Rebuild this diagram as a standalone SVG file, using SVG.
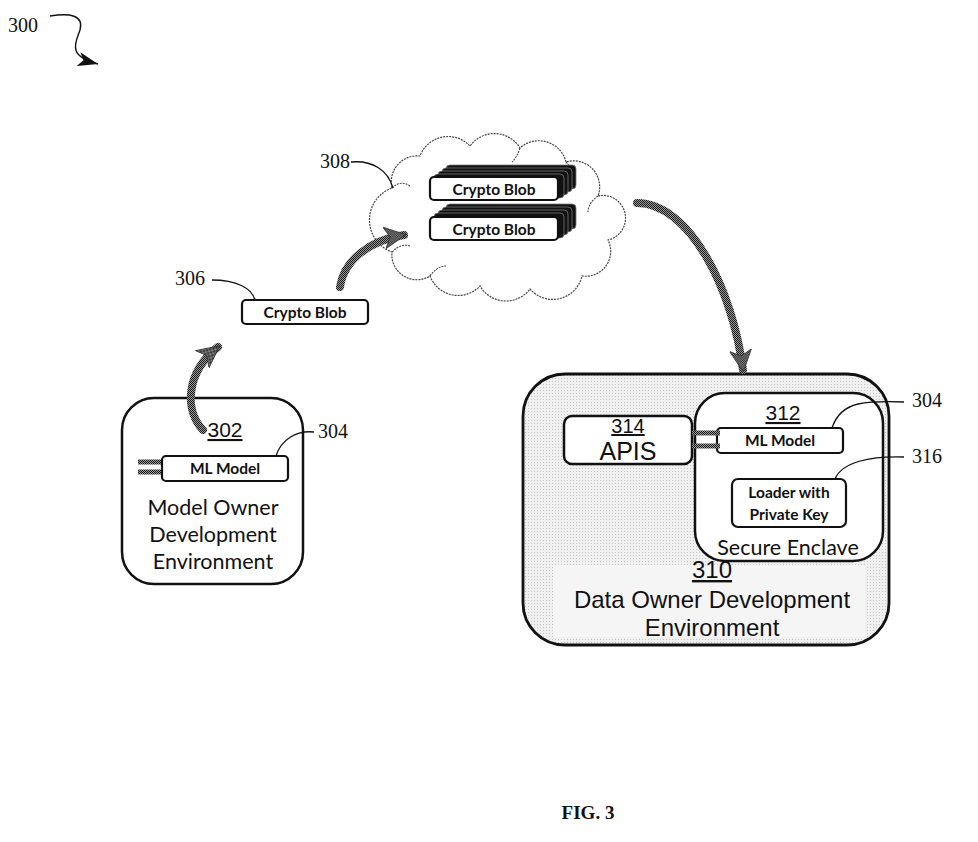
<svg xmlns="http://www.w3.org/2000/svg" width="978" height="842" viewBox="0 0 978 842">
<defs>
<pattern id="hatch" width="2" height="2" patternUnits="userSpaceOnUse">
<rect width="2" height="2" fill="#9a9a9a"/>
<rect width="1" height="1" fill="#1a1a1a"/>
<rect x="1" y="1" width="1" height="1" fill="#1a1a1a"/>
</pattern>
<pattern id="dots" width="3" height="3" patternUnits="userSpaceOnUse">
<rect width="3" height="3" fill="#f0f0f0"/>
<rect width="1" height="1" fill="#c4c4c4"/>
</pattern>
<marker id="bigHead" markerUnits="userSpaceOnUse" markerWidth="26" markerHeight="26" refX="20" refY="13" orient="auto" viewBox="0 0 26 26">
<path d="M0,2 L22,13 L0,24 L6,13 Z" fill="url(#hatch)" stroke="#333" stroke-width="0.8"/>
</marker>
<marker id="smallHead" markerUnits="userSpaceOnUse" markerWidth="22" markerHeight="14" refX="20" refY="7" orient="auto" viewBox="0 0 22 14">
<path d="M0,0 L20,7 L0,14 L5,7 Z" fill="#111"/>
</marker>
</defs>
<style>
.num{font-family:"Liberation Serif","Times New Roman",serif;font-size:20px;fill:#111}
.ar{font-family:"Liberation Sans",Arial,sans-serif;fill:#111}
.cal{font-family:Lato,"Liberation Sans",sans-serif;fill:#111}
.calb{font-family:Lato,"Liberation Sans",sans-serif;font-weight:bold;fill:#111}
.box{fill:#fff;stroke:#111;stroke-width:2.5}
.small{fill:#fff;stroke:#111;stroke-width:2.2}
.lead{fill:none;stroke:#111;stroke-width:1.3}
.flow{fill:none;stroke:url(#hatch);stroke-width:8;stroke-linecap:round}
.link{stroke:url(#hatch);stroke-width:5;fill:none}
.stack{fill:#111;stroke:#777;stroke-width:0.8}
</style>

<g id="fig-label">
<text class="num" x="8" y="32">300</text>
<path d="M50,16 C70,13 84,15 80,30 C76,42 66,56 98,64" fill="none" stroke="#111" stroke-width="1.4" marker-end="url(#smallHead)"/>
</g>

<g id="node-302">
<rect class="box" x="122" y="398" width="181" height="186" rx="32"/>
<text class="ar" x="225" y="437" font-size="21" text-anchor="middle" text-decoration="underline">302</text>
<text class="cal" x="213" y="515" font-size="21.5" text-anchor="middle">Model Owner</text>
<text class="cal" x="213" y="542" font-size="21.5" text-anchor="middle">Development</text>
<text class="cal" x="213" y="569" font-size="21.5" text-anchor="middle">Environment</text>
</g>

<g id="node-304-left">
<line class="link" x1="138" y1="462" x2="172" y2="462"/>
<line class="link" x1="138" y1="472" x2="172" y2="472"/>
<rect class="small" x="162" y="456" width="126" height="25" rx="4"/>
<text class="calb" x="225" y="474" font-size="15.5" text-anchor="middle">ML Model</text>
<text class="num" x="318" y="438">304</text>
<path class="lead" d="M314,432 C296,430 281,440 276,456"/>
</g>

<g id="node-306">
<rect class="small" x="242" y="300" width="126" height="24" rx="4"/>
<text class="calb" x="305" y="318" font-size="15.5" text-anchor="middle">Crypto Blob</text>
<text class="num" x="175" y="285">306</text>
<path class="lead" d="M212,280 C236,280 252,288 255,300"/>
</g>

<g id="node-308">
<path d="M392,188 A26,26 0 0 1 420,156 A30,30 0 0 1 470,146 A30,30 0 0 1 520,148 A28,28 0 0 1 566,162 A26,26 0 0 1 598,196 A22,22 0 0 1 608,240 A25,25 0 0 1 582,276 A30,30 0 0 1 530,289 A30,30 0 0 1 480,286 A30,30 0 0 1 430,276 A25,25 0 0 1 392,252 A34,34 0 0 1 392,188 Z" fill="#fff" stroke="#444" stroke-width="1.2" stroke-dasharray="2 1"/>
<path d="M392,188 C398,182 404,182 410,186" fill="none" stroke="#444" stroke-width="1.1" stroke-dasharray="2 1"/>
<path d="M566,162 C572,168 574,176 572,184" fill="none" stroke="#444" stroke-width="1.1" stroke-dasharray="2 1"/>
<path d="M598,196 C592,200 588,206 588,212" fill="none" stroke="#444" stroke-width="1.1" stroke-dasharray="2 1"/>
<path d="M430,276 C434,270 440,266 446,266" fill="none" stroke="#444" stroke-width="1.1" stroke-dasharray="2 1"/>
<path d="M392,252 C398,246 404,244 410,246" fill="none" stroke="#444" stroke-width="1.1" stroke-dasharray="2 1"/>
<path d="M520,148 C518,154 516,158 512,162" fill="none" stroke="#444" stroke-width="1.1" stroke-dasharray="2 1"/>
<g id="blob-stack-1">
<rect class="stack" x="446" y="165" width="130" height="24" rx="4"/>
<rect class="stack" x="442" y="168" width="130" height="24" rx="4"/>
<rect class="stack" x="438" y="171" width="130" height="24" rx="4"/>
<rect class="stack" x="434" y="174" width="130" height="24" rx="4"/>
<rect class="small" x="430" y="177" width="128" height="23" rx="4"/>
<text class="calb" x="494" y="195" font-size="15.5" text-anchor="middle">Crypto Blob</text>
</g>
<g id="blob-stack-2">
<rect class="stack" x="446" y="204" width="130" height="25" rx="4"/>
<rect class="stack" x="442" y="207" width="130" height="25" rx="4"/>
<rect class="stack" x="438" y="210" width="130" height="25" rx="4"/>
<rect class="stack" x="434" y="213" width="130" height="25" rx="4"/>
<rect class="small" x="430" y="217" width="128" height="23" rx="4"/>
<text class="calb" x="494" y="235" font-size="15.5" text-anchor="middle">Crypto Blob</text>
</g>
<text class="num" x="350" y="168" text-anchor="end">308</text>
<path class="lead" d="M351,162 C372,160 388,170 393,188"/>
</g>

<g id="node-310">
<rect x="523" y="374" width="366" height="271" rx="42" fill="url(#dots)" stroke="#111" stroke-width="2.8"/>
<rect x="553" y="565" width="312" height="72" fill="#f5f5f5"/>
<text class="ar" x="712" y="578" font-size="24" text-anchor="middle" text-decoration="underline">310</text>
<text class="ar" x="712" y="608" font-size="24" text-anchor="middle">Data Owner Development</text>
<text class="ar" x="712" y="636" font-size="24" text-anchor="middle">Environment</text>
</g>

<g id="node-314">
<rect class="box" x="564" y="416" width="128" height="48" rx="8"/>
<text class="ar" x="628" y="433" font-size="20" text-anchor="middle" text-decoration="underline">314</text>
<text class="ar" x="628" y="460" font-size="25" text-anchor="middle">APIS</text>
</g>

<g id="node-312">
<rect class="box" x="695" y="393" width="188" height="168" rx="30"/>
<text class="ar" x="783" y="420" font-size="21" text-anchor="middle" text-decoration="underline">312</text>
<text class="cal" x="788" y="555" font-size="21.5" text-anchor="middle">Secure Enclave</text>
</g>

<g id="node-304-right">
<rect class="small" x="717" y="428" width="126" height="25" rx="4"/>
<text class="calb" x="780" y="446" font-size="15.5" text-anchor="middle">ML Model</text>
<text class="num" x="912" y="407">304</text>
<path class="lead" d="M904,402 C880,401 868,402 858,404 C845,407 836,416 832,428"/>
</g>

<g id="node-316">
<rect class="small" x="732" y="479" width="114" height="48" rx="6"/>
<text class="calb" x="789" y="498" font-size="15.5" text-anchor="middle">Loader with</text>
<text class="calb" x="789" y="520" font-size="15.5" text-anchor="middle">Private Key</text>
<text class="num" x="912" y="463">316</text>
<path class="lead" d="M904,457 C870,456 842,462 835,479"/>
</g>

<g id="connectors">
<line class="link" x1="692" y1="433" x2="720" y2="433"/>
<line class="link" x1="692" y1="446" x2="720" y2="446"/>
<path class="flow" d="M203,430 C184,410 186,372 218,347" marker-end="url(#bigHead)"/>
<path class="flow" d="M340,287 C344,260 370,240 404,235" marker-end="url(#bigHead)"/>
<path class="flow" d="M637,203 C690,203 733,290 743,370" marker-end="url(#bigHead)"/>
</g>

<text x="588" y="819" font-family="Liberation Serif,'Times New Roman',serif" font-weight="bold" font-size="19" text-anchor="middle" fill="#111">FIG. 3</text>
</svg>
